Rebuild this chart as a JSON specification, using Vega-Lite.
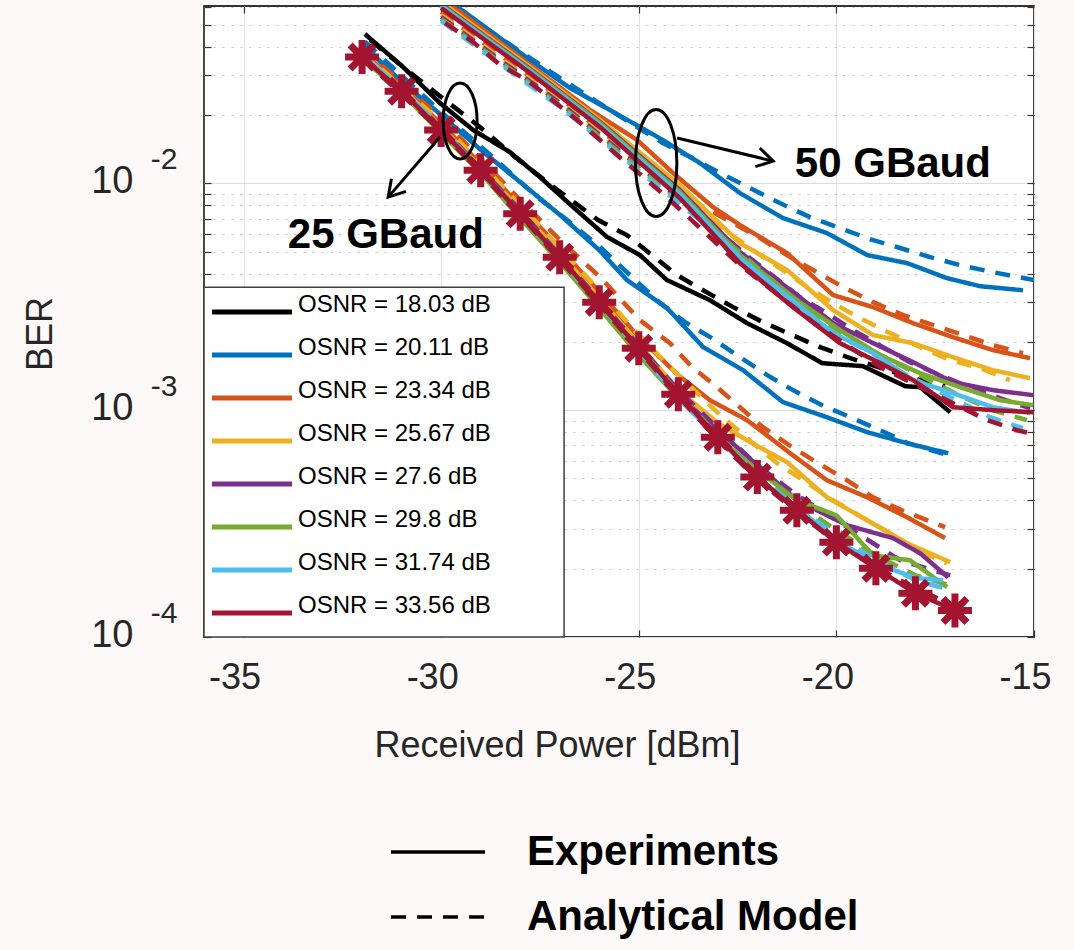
{
  "$schema": "https://vega.github.io/schema/vega-lite/v6.json",
  "width": 830,
  "height": 631,
  "autosize": "none",
  "padding": {"left": 204, "top": 6, "right": 40, "bottom": 313},
  "background": "#fdf9f8",
  "config": {
    "font": "Liberation Sans",
    "view": {"fill": "white", "stroke": "#333333", "strokeWidth": 1.8}
  },
  "datasets": {
    "box": [{"x": -36, "x2": -26.89, "y": 0.0001, "y2": 0.003487}],
    "ell25": [{"x": -29.52, "y": 0.01883}],
    "ell50": [{"x": -24.56, "y": 0.01229}],
    "arrows": [
      {"x": -30.03, "y": 0.016, "x2": -31.34, "y2": 0.0087},
      {"x": -24.03, "y": 0.01584, "x2": -21.6, "y2": 0.01254}
    ],
    "head25": [{"x": -31.34, "y": 0.0087}],
    "head50": [{"x": -21.6, "y": 0.01254}],
    "labels": [
      {"x": -31.4, "y": 0.00518, "label": "25 GBaud"},
      {"x": -18.57, "y": 0.01066, "label": "50 GBaud"}
    ],
    "ber": [
      {"b":25,"o":"18.03","t":"E","x":-31.93,"y":0.04556},
      {"b":25,"o":"18.03","t":"E","x":-30.99,"y":0.03293},
      {"b":25,"o":"18.03","t":"E","x":-30.03,"y":0.02261},
      {"b":25,"o":"18.03","t":"E","x":-29.19,"y":0.01719},
      {"b":25,"o":"18.03","t":"E","x":-28.26,"y":0.01374},
      {"b":25,"o":"18.03","t":"E","x":-27.5,"y":0.01066},
      {"b":25,"o":"18.03","t":"E","x":-26.66,"y":0.00786},
      {"b":25,"o":"18.03","t":"E","x":-25.8,"y":0.0058},
      {"b":25,"o":"18.03","t":"E","x":-24.97,"y":0.00483},
      {"b":25,"o":"18.03","t":"E","x":-24.29,"y":0.00375},
      {"b":25,"o":"18.03","t":"E","x":-23.2,"y":0.003056},
      {"b":25,"o":"18.03","t":"E","x":-22.26,"y":0.00242},
      {"b":25,"o":"18.03","t":"E","x":-21.25,"y":0.001975},
      {"b":25,"o":"18.03","t":"E","x":-20.36,"y":0.001612},
      {"b":25,"o":"18.03","t":"E","x":-19.33,"y":0.001564},
      {"b":25,"o":"18.03","t":"E","x":-18.26,"y":0.001276},
      {"b":25,"o":"18.03","t":"E","x":-17.88,"y":0.001263},
      {"b":25,"o":"18.03","t":"E","x":-17.12,"y":0.00098},
      {"b":25,"o":"18.03","t":"M","x":-31.8,"y":0.04287},
      {"b":25,"o":"18.03","t":"M","x":-31.12,"y":0.03428},
      {"b":25,"o":"18.03","t":"M","x":-30,"y":0.02403},
      {"b":25,"o":"18.03","t":"M","x":-29.02,"y":0.01772},
      {"b":25,"o":"18.03","t":"M","x":-28.13,"y":0.01306},
      {"b":25,"o":"18.03","t":"M","x":-27.32,"y":0.01013},
      {"b":25,"o":"18.03","t":"M","x":-26.03,"y":0.00689},
      {"b":25,"o":"18.03","t":"M","x":-25.3,"y":0.00592},
      {"b":25,"o":"18.03","t":"M","x":-24.03,"y":0.00394},
      {"b":25,"o":"18.03","t":"M","x":-23.37,"y":0.00338},
      {"b":25,"o":"18.03","t":"M","x":-22.61,"y":0.002847},
      {"b":25,"o":"18.03","t":"M","x":-21.86,"y":0.002445},
      {"b":25,"o":"18.03","t":"M","x":-21.17,"y":0.002164},
      {"b":25,"o":"18.03","t":"M","x":-20.41,"y":0.001897},
      {"b":25,"o":"18.03","t":"M","x":-19.65,"y":0.001696},
      {"b":25,"o":"18.03","t":"M","x":-18.06,"y":0.001384},
      {"b":25,"o":"18.03","t":"M","x":-17.25,"y":0.001276},
      {"b":25,"o":"20.11","t":"E","x":-31.98,"y":0.04074},
      {"b":25,"o":"20.11","t":"E","x":-30.99,"y":0.02799},
      {"b":25,"o":"20.11","t":"E","x":-30,"y":0.02001},
      {"b":25,"o":"20.11","t":"E","x":-28.99,"y":0.01402},
      {"b":25,"o":"20.11","t":"E","x":-28,"y":0.01013},
      {"b":25,"o":"20.11","t":"E","x":-26.99,"y":0.00725},
      {"b":25,"o":"20.11","t":"E","x":-26,"y":0.00508},
      {"b":25,"o":"20.11","t":"E","x":-25.3,"y":0.00375},
      {"b":25,"o":"20.11","t":"E","x":-24.28,"y":0.002818},
      {"b":25,"o":"20.11","t":"E","x":-23.37,"y":0.001897},
      {"b":25,"o":"20.11","t":"E","x":-22.36,"y":0.001501},
      {"b":25,"o":"20.11","t":"E","x":-21.35,"y":0.001085},
      {"b":25,"o":"20.11","t":"E","x":-20.24,"y":0.000931},
      {"b":25,"o":"20.11","t":"E","x":-19.22,"y":0.0008},
      {"b":25,"o":"20.11","t":"E","x":-18.21,"y":0.000715},
      {"b":25,"o":"20.11","t":"E","x":-17.17,"y":0.000646},
      {"b":25,"o":"20.11","t":"M","x":-31.93,"y":0.042},
      {"b":25,"o":"20.11","t":"M","x":-30,"y":0.02064},
      {"b":25,"o":"20.11","t":"M","x":-28.69,"y":0.01306},
      {"b":25,"o":"20.11","t":"M","x":-27.57,"y":0.0087},
      {"b":25,"o":"20.11","t":"M","x":-26.81,"y":0.00689},
      {"b":25,"o":"20.11","t":"M","x":-25.98,"y":0.00524},
      {"b":25,"o":"20.11","t":"M","x":-25.14,"y":0.00382},
      {"b":25,"o":"20.11","t":"M","x":-24.46,"y":0.002965},
      {"b":25,"o":"20.11","t":"M","x":-23.83,"y":0.002445},
      {"b":25,"o":"20.11","t":"M","x":-23.15,"y":0.002078},
      {"b":25,"o":"20.11","t":"M","x":-22.44,"y":0.001713},
      {"b":25,"o":"20.11","t":"M","x":-21.75,"y":0.001427},
      {"b":25,"o":"20.11","t":"M","x":-21.1,"y":0.001226},
      {"b":25,"o":"20.11","t":"M","x":-20.36,"y":0.001052},
      {"b":25,"o":"20.11","t":"M","x":-19.65,"y":0.000931},
      {"b":25,"o":"20.11","t":"M","x":-18.89,"y":0.000816},
      {"b":25,"o":"20.11","t":"M","x":-18.19,"y":0.000715},
      {"b":25,"o":"20.11","t":"M","x":-17.17,"y":0.000633},
      {"b":50,"o":"20.11","t":"E","x":-30,"y":0.06772},
      {"b":50,"o":"20.11","t":"E","x":-27.75,"y":0.03499},
      {"b":50,"o":"20.11","t":"E","x":-26.74,"y":0.02633},
      {"b":50,"o":"20.11","t":"E","x":-25.73,"y":0.02106},
      {"b":50,"o":"20.11","t":"E","x":-24.39,"y":0.01553},
      {"b":50,"o":"20.11","t":"E","x":-23.45,"y":0.01229},
      {"b":50,"o":"20.11","t":"E","x":-22.44,"y":0.00906},
      {"b":50,"o":"20.11","t":"E","x":-21.35,"y":0.00703},
      {"b":50,"o":"20.11","t":"E","x":-20.24,"y":0.00604},
      {"b":50,"o":"20.11","t":"E","x":-19.22,"y":0.00483},
      {"b":50,"o":"20.11","t":"E","x":-18.21,"y":0.00445},
      {"b":50,"o":"20.11","t":"E","x":-17.2,"y":0.00382},
      {"b":50,"o":"20.11","t":"E","x":-16.36,"y":0.00352},
      {"b":50,"o":"20.11","t":"E","x":-15.28,"y":0.00338},
      {"b":50,"o":"20.11","t":"M","x":-30,"y":0.06635},
      {"b":50,"o":"20.11","t":"M","x":-28.51,"y":0.04375},
      {"b":50,"o":"20.11","t":"M","x":-26.99,"y":0.02914},
      {"b":50,"o":"20.11","t":"M","x":-25.73,"y":0.02106},
      {"b":50,"o":"20.11","t":"M","x":-24.39,"y":0.01506},
      {"b":50,"o":"20.11","t":"M","x":-23.7,"y":0.01306},
      {"b":50,"o":"20.11","t":"M","x":-22.94,"y":0.0111},
      {"b":50,"o":"20.11","t":"M","x":-22.18,"y":0.00953},
      {"b":50,"o":"20.11","t":"M","x":-21.43,"y":0.00819},
      {"b":50,"o":"20.11","t":"M","x":-20.67,"y":0.0071},
      {"b":50,"o":"20.11","t":"M","x":-19.91,"y":0.00635},
      {"b":50,"o":"20.11","t":"M","x":-19.15,"y":0.00568},
      {"b":50,"o":"20.11","t":"M","x":-18.39,"y":0.00519},
      {"b":50,"o":"20.11","t":"M","x":-17.63,"y":0.00473},
      {"b":50,"o":"20.11","t":"M","x":-16.87,"y":0.00436},
      {"b":50,"o":"20.11","t":"M","x":-16.04,"y":0.00406},
      {"b":50,"o":"20.11","t":"M","x":-15,"y":0.00375},
      {"b":25,"o":"23.34","t":"E","x":-32,"y":0.03796},
      {"b":25,"o":"23.34","t":"E","x":-31,"y":0.02687},
      {"b":25,"o":"23.34","t":"E","x":-30,"y":0.01827},
      {"b":25,"o":"23.34","t":"E","x":-29,"y":0.01217},
      {"b":25,"o":"23.34","t":"E","x":-28,"y":0.00794},
      {"b":25,"o":"23.34","t":"E","x":-27,"y":0.00519},
      {"b":25,"o":"23.34","t":"E","x":-26,"y":0.00332},
      {"b":25,"o":"23.34","t":"E","x":-25,"y":0.002099},
      {"b":25,"o":"23.34","t":"E","x":-24,"y":0.001427},
      {"b":25,"o":"23.34","t":"E","x":-23.2,"y":0.001107},
      {"b":25,"o":"23.34","t":"E","x":-22.26,"y":0.000904},
      {"b":25,"o":"23.34","t":"E","x":-21.17,"y":0.000646},
      {"b":25,"o":"23.34","t":"E","x":-20.24,"y":0.000491},
      {"b":25,"o":"23.34","t":"E","x":-19.22,"y":0.000413},
      {"b":25,"o":"23.34","t":"E","x":-18.21,"y":0.000337},
      {"b":25,"o":"23.34","t":"E","x":-17.25,"y":0.000273},
      {"b":25,"o":"23.34","t":"M","x":-32,"y":0.03953},
      {"b":25,"o":"23.34","t":"M","x":-30,"y":0.01941},
      {"b":25,"o":"23.34","t":"M","x":-28,"y":0.00844},
      {"b":25,"o":"23.34","t":"M","x":-26.99,"y":0.00562},
      {"b":25,"o":"23.34","t":"M","x":-25.98,"y":0.00386},
      {"b":25,"o":"23.34","t":"M","x":-24.97,"y":0.002495},
      {"b":25,"o":"23.34","t":"M","x":-24.21,"y":0.001975},
      {"b":25,"o":"23.34","t":"M","x":-23.65,"y":0.001548},
      {"b":25,"o":"23.34","t":"M","x":-23.02,"y":0.001263},
      {"b":25,"o":"23.34","t":"M","x":-22.44,"y":0.001031},
      {"b":25,"o":"23.34","t":"M","x":-21.86,"y":0.000842},
      {"b":25,"o":"23.34","t":"M","x":-21.12,"y":0.000687},
      {"b":25,"o":"23.34","t":"M","x":-20.46,"y":0.000584},
      {"b":25,"o":"23.34","t":"M","x":-19.73,"y":0.000491},
      {"b":25,"o":"23.34","t":"M","x":-19.07,"y":0.000413},
      {"b":25,"o":"23.34","t":"M","x":-18.34,"y":0.000362},
      {"b":25,"o":"23.34","t":"M","x":-17.25,"y":0.000305},
      {"b":50,"o":"23.34","t":"E","x":-30,"y":0.06436},
      {"b":50,"o":"23.34","t":"E","x":-29.52,"y":0.05697},
      {"b":50,"o":"23.34","t":"E","x":-27.75,"y":0.03326},
      {"b":50,"o":"23.34","t":"E","x":-26.23,"y":0.02106},
      {"b":50,"o":"23.34","t":"E","x":-25.04,"y":0.01553},
      {"b":50,"o":"23.34","t":"E","x":-24.13,"y":0.0111},
      {"b":50,"o":"23.34","t":"E","x":-23.12,"y":0.00786},
      {"b":50,"o":"23.34","t":"E","x":-22.44,"y":0.00655},
      {"b":50,"o":"23.34","t":"E","x":-21.25,"y":0.00493},
      {"b":50,"o":"23.34","t":"E","x":-20.08,"y":0.003216},
      {"b":50,"o":"23.34","t":"E","x":-19.07,"y":0.002847},
      {"b":50,"o":"23.34","t":"E","x":-18.06,"y":0.00242},
      {"b":50,"o":"23.34","t":"E","x":-17.05,"y":0.002099},
      {"b":50,"o":"23.34","t":"E","x":-16.04,"y":0.00184},
      {"b":50,"o":"23.34","t":"E","x":-15.1,"y":0.001696},
      {"b":50,"o":"23.34","t":"M","x":-30,"y":0.05697},
      {"b":50,"o":"23.34","t":"M","x":-28.51,"y":0.03681},
      {"b":50,"o":"23.34","t":"M","x":-26.99,"y":0.02378},
      {"b":50,"o":"23.34","t":"M","x":-25.98,"y":0.01719},
      {"b":50,"o":"23.34","t":"M","x":-24.71,"y":0.01168},
      {"b":50,"o":"23.34","t":"M","x":-23.45,"y":0.00802},
      {"b":50,"o":"23.34","t":"M","x":-21.93,"y":0.00574},
      {"b":50,"o":"23.34","t":"M","x":-21.17,"y":0.00473},
      {"b":50,"o":"23.34","t":"M","x":-20.49,"y":0.00406},
      {"b":50,"o":"23.34","t":"M","x":-19.83,"y":0.00349},
      {"b":50,"o":"23.34","t":"M","x":-19.07,"y":0.002996},
      {"b":50,"o":"23.34","t":"M","x":-18.31,"y":0.002625},
      {"b":50,"o":"23.34","t":"M","x":-17.55,"y":0.002371},
      {"b":50,"o":"23.34","t":"M","x":-16.79,"y":0.002142},
      {"b":50,"o":"23.34","t":"M","x":-16.04,"y":0.001935},
      {"b":50,"o":"23.34","t":"M","x":-15.28,"y":0.001785},
      {"b":25,"o":"25.67","t":"E","x":-32,"y":0.0372},
      {"b":25,"o":"25.67","t":"E","x":-31,"y":0.02633},
      {"b":25,"o":"25.67","t":"E","x":-30,"y":0.01772},
      {"b":25,"o":"25.67","t":"E","x":-29,"y":0.0118},
      {"b":25,"o":"25.67","t":"E","x":-28,"y":0.00762},
      {"b":25,"o":"25.67","t":"E","x":-27,"y":0.00493},
      {"b":25,"o":"25.67","t":"E","x":-26,"y":0.003119},
      {"b":25,"o":"25.67","t":"E","x":-25,"y":0.001955},
      {"b":25,"o":"25.67","t":"E","x":-24,"y":0.001226},
      {"b":25,"o":"25.67","t":"E","x":-22.99,"y":0.000876},
      {"b":25,"o":"25.67","t":"E","x":-22.18,"y":0.000723},
      {"b":25,"o":"25.67","t":"E","x":-21.25,"y":0.00059},
      {"b":25,"o":"25.67","t":"E","x":-20.24,"y":0.000413},
      {"b":25,"o":"25.67","t":"E","x":-19.22,"y":0.000327},
      {"b":25,"o":"25.67","t":"E","x":-18.21,"y":0.000259},
      {"b":25,"o":"25.67","t":"E","x":-17.12,"y":0.000214},
      {"b":25,"o":"25.67","t":"M","x":-32,"y":0.03796},
      {"b":25,"o":"25.67","t":"M","x":-30,"y":0.01865},
      {"b":25,"o":"25.67","t":"M","x":-28,"y":0.00802},
      {"b":25,"o":"25.67","t":"M","x":-26,"y":0.00338},
      {"b":25,"o":"25.67","t":"M","x":-25,"y":0.002142},
      {"b":25,"o":"25.67","t":"M","x":-24,"y":0.001427},
      {"b":25,"o":"25.67","t":"M","x":-22.99,"y":0.00097},
      {"b":25,"o":"25.67","t":"M","x":-22.11,"y":0.000715},
      {"b":25,"o":"25.67","t":"M","x":-21.5,"y":0.000584},
      {"b":25,"o":"25.67","t":"M","x":-20.84,"y":0.000491},
      {"b":25,"o":"25.67","t":"M","x":-20.08,"y":0.000401},
      {"b":25,"o":"25.67","t":"M","x":-19.22,"y":0.000327},
      {"b":25,"o":"25.67","t":"M","x":-18.64,"y":0.000287},
      {"b":25,"o":"25.67","t":"M","x":-17.96,"y":0.000241},
      {"b":25,"o":"25.67","t":"M","x":-17.2,"y":0.000211},
      {"b":50,"o":"25.67","t":"E","x":-30,"y":0.06305},
      {"b":50,"o":"25.67","t":"E","x":-27.75,"y":0.03259},
      {"b":50,"o":"25.67","t":"E","x":-25.98,"y":0.01902},
      {"b":50,"o":"25.67","t":"E","x":-23.96,"y":0.00983},
      {"b":50,"o":"25.67","t":"E","x":-22.44,"y":0.00545},
      {"b":50,"o":"25.67","t":"E","x":-21.25,"y":0.00415},
      {"b":50,"o":"25.67","t":"E","x":-20.08,"y":0.002762},
      {"b":50,"o":"25.67","t":"E","x":-19.07,"y":0.002142},
      {"b":50,"o":"25.67","t":"E","x":-18.06,"y":0.001975},
      {"b":50,"o":"25.67","t":"E","x":-17.05,"y":0.001713},
      {"b":50,"o":"25.67","t":"E","x":-16.04,"y":0.001501},
      {"b":50,"o":"25.67","t":"E","x":-15.1,"y":0.001384},
      {"b":50,"o":"25.67","t":"M","x":-30,"y":0.05526},
      {"b":50,"o":"25.67","t":"M","x":-28.51,"y":0.03571},
      {"b":50,"o":"25.67","t":"M","x":-26.99,"y":0.02307},
      {"b":50,"o":"25.67","t":"M","x":-25.98,"y":0.01667},
      {"b":50,"o":"25.67","t":"M","x":-24.71,"y":0.01122},
      {"b":50,"o":"25.67","t":"M","x":-23.45,"y":0.00747},
      {"b":50,"o":"25.67","t":"M","x":-22.11,"y":0.00508},
      {"b":50,"o":"25.67","t":"M","x":-21.43,"y":0.00423},
      {"b":50,"o":"25.67","t":"M","x":-20.74,"y":0.00349},
      {"b":50,"o":"25.67","t":"M","x":-20.08,"y":0.002965},
      {"b":50,"o":"25.67","t":"M","x":-19.4,"y":0.002546},
      {"b":50,"o":"25.67","t":"M","x":-18.64,"y":0.002186},
      {"b":50,"o":"25.67","t":"M","x":-17.88,"y":0.001897},
      {"b":50,"o":"25.67","t":"M","x":-17.12,"y":0.001662},
      {"b":50,"o":"25.67","t":"M","x":-16.36,"y":0.001532},
      {"b":50,"o":"25.67","t":"M","x":-15.61,"y":0.001357},
      {"b":25,"o":"27.6","t":"E","x":-32,"y":0.03645},
      {"b":25,"o":"27.6","t":"E","x":-31,"y":0.0258},
      {"b":25,"o":"27.6","t":"E","x":-30,"y":0.01737},
      {"b":25,"o":"27.6","t":"E","x":-29,"y":0.01156},
      {"b":25,"o":"27.6","t":"E","x":-28,"y":0.0074},
      {"b":25,"o":"27.6","t":"E","x":-27,"y":0.00473},
      {"b":25,"o":"27.6","t":"E","x":-26,"y":0.002965},
      {"b":25,"o":"27.6","t":"E","x":-25,"y":0.001859},
      {"b":25,"o":"27.6","t":"E","x":-24,"y":0.001165},
      {"b":25,"o":"27.6","t":"E","x":-23,"y":0.000816},
      {"b":25,"o":"27.6","t":"E","x":-22,"y":0.000572},
      {"b":25,"o":"27.6","t":"E","x":-21,"y":0.000401},
      {"b":25,"o":"27.6","t":"E","x":-19.73,"y":0.000311},
      {"b":25,"o":"27.6","t":"E","x":-18.57,"y":0.000273},
      {"b":25,"o":"27.6","t":"E","x":-17.88,"y":0.000234},
      {"b":25,"o":"27.6","t":"E","x":-17.17,"y":0.000183},
      {"b":25,"o":"27.6","t":"M","x":-32,"y":0.03681},
      {"b":25,"o":"27.6","t":"M","x":-30,"y":0.01772},
      {"b":25,"o":"27.6","t":"M","x":-28,"y":0.00762},
      {"b":25,"o":"27.6","t":"M","x":-26,"y":0.003056},
      {"b":25,"o":"27.6","t":"M","x":-25,"y":0.001935},
      {"b":25,"o":"27.6","t":"M","x":-24,"y":0.001226},
      {"b":25,"o":"27.6","t":"M","x":-23,"y":0.000833},
      {"b":25,"o":"27.6","t":"M","x":-22,"y":0.000572},
      {"b":25,"o":"27.6","t":"M","x":-21,"y":0.000422},
      {"b":25,"o":"27.6","t":"M","x":-20,"y":0.000327},
      {"b":25,"o":"27.6","t":"M","x":-19.07,"y":0.000259},
      {"b":25,"o":"27.6","t":"M","x":-18.39,"y":0.000218},
      {"b":25,"o":"27.6","t":"M","x":-17.55,"y":0.000197},
      {"b":25,"o":"27.6","t":"M","x":-17.12,"y":0.000187},
      {"b":50,"o":"27.6","t":"E","x":-30,"y":0.0618},
      {"b":50,"o":"27.6","t":"E","x":-27.75,"y":0.03193},
      {"b":50,"o":"27.6","t":"E","x":-25.98,"y":0.01865},
      {"b":50,"o":"27.6","t":"E","x":-23.96,"y":0.00934},
      {"b":50,"o":"27.6","t":"E","x":-22.44,"y":0.00498},
      {"b":50,"o":"27.6","t":"E","x":-21.1,"y":0.00332},
      {"b":50,"o":"27.6","t":"E","x":-20.08,"y":0.00242},
      {"b":50,"o":"27.6","t":"E","x":-19.07,"y":0.001975},
      {"b":50,"o":"27.6","t":"E","x":-18.06,"y":0.001629},
      {"b":50,"o":"27.6","t":"E","x":-17.05,"y":0.001329},
      {"b":50,"o":"27.6","t":"E","x":-16.04,"y":0.001226},
      {"b":50,"o":"27.6","t":"E","x":-15.02,"y":0.001165},
      {"b":50,"o":"27.6","t":"M","x":-30,"y":0.05415},
      {"b":50,"o":"27.6","t":"M","x":-28.51,"y":0.03499},
      {"b":50,"o":"27.6","t":"M","x":-26.99,"y":0.02261},
      {"b":50,"o":"27.6","t":"M","x":-25.98,"y":0.01633},
      {"b":50,"o":"27.6","t":"M","x":-24.71,"y":0.01088},
      {"b":50,"o":"27.6","t":"M","x":-23.45,"y":0.00718},
      {"b":50,"o":"27.6","t":"M","x":-22.18,"y":0.00468},
      {"b":50,"o":"27.6","t":"M","x":-20.92,"y":0.00315},
      {"b":50,"o":"27.6","t":"M","x":-20.24,"y":0.002679},
      {"b":50,"o":"27.6","t":"M","x":-19.58,"y":0.002254},
      {"b":50,"o":"27.6","t":"M","x":-18.82,"y":0.001897},
      {"b":50,"o":"27.6","t":"M","x":-18.14,"y":0.001629},
      {"b":50,"o":"27.6","t":"M","x":-17.38,"y":0.001427},
      {"b":50,"o":"27.6","t":"M","x":-16.62,"y":0.001263},
      {"b":50,"o":"27.6","t":"M","x":-15.86,"y":0.00113},
      {"b":50,"o":"27.6","t":"M","x":-15.1,"y":0.001021},
      {"b":25,"o":"29.8","t":"E","x":-32,"y":0.03571},
      {"b":25,"o":"29.8","t":"E","x":-31,"y":0.02503},
      {"b":25,"o":"29.8","t":"E","x":-30,"y":0.01667},
      {"b":25,"o":"29.8","t":"E","x":-29,"y":0.0111},
      {"b":25,"o":"29.8","t":"E","x":-28,"y":0.00703},
      {"b":25,"o":"29.8","t":"E","x":-27,"y":0.0045},
      {"b":25,"o":"29.8","t":"E","x":-26,"y":0.002818},
      {"b":25,"o":"29.8","t":"E","x":-25,"y":0.001748},
      {"b":25,"o":"29.8","t":"E","x":-24,"y":0.00113},
      {"b":25,"o":"29.8","t":"E","x":-23,"y":0.00076},
      {"b":25,"o":"29.8","t":"E","x":-22,"y":0.000544},
      {"b":25,"o":"29.8","t":"E","x":-21,"y":0.000401},
      {"b":25,"o":"29.8","t":"E","x":-20,"y":0.000344},
      {"b":25,"o":"29.8","t":"E","x":-19.07,"y":0.000229},
      {"b":25,"o":"29.8","t":"E","x":-18.14,"y":0.000218},
      {"b":25,"o":"29.8","t":"E","x":-17.2,"y":0.000166},
      {"b":25,"o":"29.8","t":"M","x":-32,"y":0.0361},
      {"b":25,"o":"29.8","t":"M","x":-30,"y":0.01701},
      {"b":25,"o":"29.8","t":"M","x":-28,"y":0.00718},
      {"b":25,"o":"29.8","t":"M","x":-26,"y":0.002905},
      {"b":25,"o":"29.8","t":"M","x":-25,"y":0.001897},
      {"b":25,"o":"29.8","t":"M","x":-24,"y":0.001189},
      {"b":25,"o":"29.8","t":"M","x":-23,"y":0.000776},
      {"b":25,"o":"29.8","t":"M","x":-22,"y":0.000533},
      {"b":25,"o":"29.8","t":"M","x":-21,"y":0.000389},
      {"b":25,"o":"29.8","t":"M","x":-20,"y":0.000296},
      {"b":25,"o":"29.8","t":"M","x":-19,"y":0.000229},
      {"b":25,"o":"29.8","t":"M","x":-18,"y":0.000187},
      {"b":25,"o":"29.8","t":"M","x":-17.12,"y":0.000169},
      {"b":50,"o":"29.8","t":"E","x":-30,"y":0.06117},
      {"b":50,"o":"29.8","t":"E","x":-27.75,"y":0.03161},
      {"b":50,"o":"29.8","t":"E","x":-25.98,"y":0.01845},
      {"b":50,"o":"29.8","t":"E","x":-23.96,"y":0.00916},
      {"b":50,"o":"29.8","t":"E","x":-22.44,"y":0.00483},
      {"b":50,"o":"29.8","t":"E","x":-21,"y":0.003056},
      {"b":50,"o":"29.8","t":"E","x":-19.91,"y":0.002254},
      {"b":50,"o":"29.8","t":"E","x":-18.89,"y":0.001748},
      {"b":50,"o":"29.8","t":"E","x":-17.88,"y":0.001456},
      {"b":50,"o":"29.8","t":"E","x":-16.87,"y":0.001263},
      {"b":50,"o":"29.8","t":"E","x":-15.86,"y":0.001107},
      {"b":50,"o":"29.8","t":"E","x":-15.02,"y":0.001052},
      {"b":50,"o":"29.8","t":"M","x":-30,"y":0.05306},
      {"b":50,"o":"29.8","t":"M","x":-28.51,"y":0.03428},
      {"b":50,"o":"29.8","t":"M","x":-26.99,"y":0.02215},
      {"b":50,"o":"29.8","t":"M","x":-25.98,"y":0.01601},
      {"b":50,"o":"29.8","t":"M","x":-24.71,"y":0.01066},
      {"b":50,"o":"29.8","t":"M","x":-23.45,"y":0.00703},
      {"b":50,"o":"29.8","t":"M","x":-21.93,"y":0.00415},
      {"b":50,"o":"29.8","t":"M","x":-20.41,"y":0.002495},
      {"b":50,"o":"29.8","t":"M","x":-19.73,"y":0.002099},
      {"b":50,"o":"29.8","t":"M","x":-18.97,"y":0.001785},
      {"b":50,"o":"29.8","t":"M","x":-17.55,"y":0.001329},
      {"b":50,"o":"29.8","t":"M","x":-16.79,"y":0.001141},
      {"b":50,"o":"29.8","t":"M","x":-16.04,"y":0.001},
      {"b":50,"o":"29.8","t":"M","x":-15.18,"y":0.000904},
      {"b":25,"o":"31.74","t":"E","x":-32,"y":0.03681},
      {"b":25,"o":"31.74","t":"E","x":-31,"y":0.02606},
      {"b":25,"o":"31.74","t":"E","x":-30,"y":0.01754},
      {"b":25,"o":"31.74","t":"E","x":-29,"y":0.01143},
      {"b":25,"o":"31.74","t":"E","x":-28,"y":0.00734},
      {"b":25,"o":"31.74","t":"E","x":-27,"y":0.00468},
      {"b":25,"o":"31.74","t":"E","x":-26,"y":0.002965},
      {"b":25,"o":"31.74","t":"E","x":-25,"y":0.00184},
      {"b":25,"o":"31.74","t":"E","x":-24,"y":0.00113},
      {"b":25,"o":"31.74","t":"E","x":-23,"y":0.00076},
      {"b":25,"o":"31.74","t":"E","x":-22,"y":0.000501},
      {"b":25,"o":"31.74","t":"E","x":-21,"y":0.000373},
      {"b":25,"o":"31.74","t":"E","x":-20,"y":0.000267},
      {"b":25,"o":"31.74","t":"E","x":-19,"y":0.000211},
      {"b":25,"o":"31.74","t":"E","x":-18,"y":0.000182},
      {"b":25,"o":"31.74","t":"E","x":-17.3,"y":0.000178},
      {"b":25,"o":"31.74","t":"M","x":-32,"y":0.03645},
      {"b":25,"o":"31.74","t":"M","x":-30,"y":0.01737},
      {"b":25,"o":"31.74","t":"M","x":-28,"y":0.0074},
      {"b":25,"o":"31.74","t":"M","x":-26,"y":0.002935},
      {"b":25,"o":"31.74","t":"M","x":-25,"y":0.001877},
      {"b":25,"o":"31.74","t":"M","x":-24,"y":0.001177},
      {"b":25,"o":"31.74","t":"M","x":-23,"y":0.00076},
      {"b":25,"o":"31.74","t":"M","x":-22,"y":0.000517},
      {"b":25,"o":"31.74","t":"M","x":-21,"y":0.000373},
      {"b":25,"o":"31.74","t":"M","x":-20,"y":0.000281},
      {"b":25,"o":"31.74","t":"M","x":-19,"y":0.000218},
      {"b":25,"o":"31.74","t":"M","x":-18,"y":0.000178},
      {"b":25,"o":"31.74","t":"M","x":-17.12,"y":0.000161},
      {"b":50,"o":"31.74","t":"E","x":-30,"y":0.06055},
      {"b":50,"o":"31.74","t":"E","x":-27.75,"y":0.03129},
      {"b":50,"o":"31.74","t":"E","x":-25.98,"y":0.01808},
      {"b":50,"o":"31.74","t":"E","x":-23.96,"y":0.00897},
      {"b":50,"o":"31.74","t":"E","x":-22.44,"y":0.00468},
      {"b":50,"o":"31.74","t":"E","x":-20.08,"y":0.002186},
      {"b":50,"o":"31.74","t":"E","x":-19.07,"y":0.001785},
      {"b":50,"o":"31.74","t":"E","x":-18.06,"y":0.001357},
      {"b":50,"o":"31.74","t":"E","x":-17.05,"y":0.001189},
      {"b":50,"o":"31.74","t":"E","x":-16.04,"y":0.001031},
      {"b":50,"o":"31.74","t":"E","x":-15.1,"y":0.00097},
      {"b":50,"o":"31.74","t":"M","x":-30,"y":0.052},
      {"b":50,"o":"31.74","t":"M","x":-28.51,"y":0.0336},
      {"b":50,"o":"31.74","t":"M","x":-26.99,"y":0.02171},
      {"b":50,"o":"31.74","t":"M","x":-25.98,"y":0.01569},
      {"b":50,"o":"31.74","t":"M","x":-24.71,"y":0.01034},
      {"b":50,"o":"31.74","t":"M","x":-23.45,"y":0.00689},
      {"b":50,"o":"31.74","t":"M","x":-21.43,"y":0.00328},
      {"b":50,"o":"31.74","t":"M","x":-19.91,"y":0.002099},
      {"b":50,"o":"31.74","t":"M","x":-19.22,"y":0.00184},
      {"b":50,"o":"31.74","t":"M","x":-18.31,"y":0.001456},
      {"b":50,"o":"31.74","t":"M","x":-16.87,"y":0.001085},
      {"b":50,"o":"31.74","t":"M","x":-16.11,"y":0.000931},
      {"b":50,"o":"31.74","t":"M","x":-15.28,"y":0.000833},
      {"b":50,"o":"33.56","t":"E","x":-30,"y":0.05934},
      {"b":50,"o":"33.56","t":"E","x":-27.75,"y":0.03066},
      {"b":50,"o":"33.56","t":"E","x":-25.98,"y":0.01772},
      {"b":50,"o":"33.56","t":"E","x":-23.96,"y":0.00861},
      {"b":50,"o":"33.56","t":"E","x":-22.44,"y":0.00445},
      {"b":50,"o":"33.56","t":"E","x":-21.1,"y":0.002847},
      {"b":50,"o":"33.56","t":"E","x":-19.91,"y":0.001975},
      {"b":50,"o":"33.56","t":"E","x":-18.89,"y":0.001612},
      {"b":50,"o":"33.56","t":"E","x":-18.06,"y":0.001357},
      {"b":50,"o":"33.56","t":"E","x":-17.05,"y":0.001031},
      {"b":50,"o":"33.56","t":"E","x":-16.04,"y":0.001},
      {"b":50,"o":"33.56","t":"E","x":-15.02,"y":0.00098},
      {"b":50,"o":"33.56","t":"M","x":-29.9,"y":0.05095},
      {"b":50,"o":"33.56","t":"M","x":-29.19,"y":0.042},
      {"b":50,"o":"33.56","t":"M","x":-28.51,"y":0.0333},
      {"b":50,"o":"33.56","t":"M","x":-27.83,"y":0.02855},
      {"b":50,"o":"33.56","t":"M","x":-27.19,"y":0.02331},
      {"b":50,"o":"33.56","t":"M","x":-26.56,"y":0.01902},
      {"b":50,"o":"33.56","t":"M","x":-25.98,"y":0.01553},
      {"b":50,"o":"33.56","t":"M","x":-25.4,"y":0.01267},
      {"b":50,"o":"33.56","t":"M","x":-24.79,"y":0.01034},
      {"b":50,"o":"33.56","t":"M","x":-24.21,"y":0.00844},
      {"b":50,"o":"33.56","t":"M","x":-22.44,"y":0.00436},
      {"b":50,"o":"33.56","t":"M","x":-20.49,"y":0.002371},
      {"b":50,"o":"33.56","t":"M","x":-18.89,"y":0.001548},
      {"b":50,"o":"33.56","t":"M","x":-17.05,"y":0.001074},
      {"b":50,"o":"33.56","t":"M","x":-16.19,"y":0.000904},
      {"b":50,"o":"33.56","t":"M","x":-15.43,"y":0.000816},
      {"b":50,"o":"33.56","t":"M","x":-15.1,"y":0.000792},
      {"b":25,"o":"33.56","t":"M","x":-32,"y":0.03571},
      {"b":25,"o":"33.56","t":"M","x":-30,"y":0.01701},
      {"b":25,"o":"33.56","t":"M","x":-28,"y":0.00725},
      {"b":25,"o":"33.56","t":"M","x":-26,"y":0.002935},
      {"b":25,"o":"33.56","t":"M","x":-25,"y":0.00184},
      {"b":25,"o":"33.56","t":"M","x":-24,"y":0.001153},
      {"b":25,"o":"33.56","t":"M","x":-23,"y":0.000738},
      {"b":25,"o":"33.56","t":"M","x":-22,"y":0.000496},
      {"b":25,"o":"33.56","t":"M","x":-21,"y":0.000355},
      {"b":25,"o":"33.56","t":"M","x":-20,"y":0.000262},
      {"b":25,"o":"33.56","t":"M","x":-19,"y":0.000203},
      {"b":25,"o":"33.56","t":"M","x":-18,"y":0.000164},
      {"b":25,"o":"33.56","t":"M","x":-17,"y":0.000137},
      {"b":25,"o":"33.56","t":"E","x":-32,"y":0.0361},
      {"b":25,"o":"33.56","t":"E","x":-31,"y":0.0255},
      {"b":25,"o":"33.56","t":"E","x":-30,"y":0.01718},
      {"b":25,"o":"33.56","t":"E","x":-29,"y":0.01143},
      {"b":25,"o":"33.56","t":"E","x":-28,"y":0.00734},
      {"b":25,"o":"33.56","t":"E","x":-27,"y":0.00473},
      {"b":25,"o":"33.56","t":"E","x":-26,"y":0.00299},
      {"b":25,"o":"33.56","t":"E","x":-25,"y":0.001876},
      {"b":25,"o":"33.56","t":"E","x":-24,"y":0.001177},
      {"b":25,"o":"33.56","t":"E","x":-23,"y":0.00076},
      {"b":25,"o":"33.56","t":"E","x":-22,"y":0.000507},
      {"b":25,"o":"33.56","t":"E","x":-21,"y":0.000362},
      {"b":25,"o":"33.56","t":"E","x":-20,"y":0.000262},
      {"b":25,"o":"33.56","t":"E","x":-19,"y":0.000201},
      {"b":25,"o":"33.56","t":"E","x":-18,"y":0.000156},
      {"b":25,"o":"33.56","t":"E","x":-17,"y":0.000131}
    ]
  },
  "encoding": {
    "x": {
      "field": "x",
      "type": "quantitative",
      "scale": {"domain": [-36, -15], "nice": false, "zero": false},
      "axis": {
        "values": [-35, -30, -25, -20, -15],
        "labelExpr": "'' + datum.value",
        "labelFontSize": 36,
        "labelColor": "#262626",
        "labelPadding": 30,
        "labelOffset": -9,
        "labelFlush": false,
        "labelOverlap": false,
        "labelBaseline": "top",
        "ticks": true,
        "tickSize": -7,
        "tickColor": "#333333",
        "tickWidth": 1.2,
        "domain": false,
        "grid": true,
        "gridColor": "#e2e2e2",
        "gridWidth": 1,
        "title": "Received Power [dBm]",
        "titleFontSize": 36,
        "titleFontWeight": "normal",
        "titleColor": "#262626",
        "titleX": 353,
        "titleY": 108,
        "titleAlign": "center",
        "titleBaseline": "middle"
      }
    }
  },
  "layer": [
    {
      "encoding": {
        "y": {
          "field": "y",
          "type": "quantitative",
          "scale": {"type": "log", "domain": [0.0001, 0.06055], "nice": false},
          "axis": {
            "orient": "left",
            "values": [0.0001, 0.0002, 0.0003, 0.0004, 0.0005, 0.0006, 0.0007, 0.0008, 0.0009, 0.001, 0.002, 0.003, 0.004, 0.005, 0.006, 0.007, 0.008, 0.009, 0.01, 0.02, 0.03, 0.04, 0.05, 0.06],
            "labelExpr": "abs(log(datum.value)/LN10 - round(log(datum.value)/LN10)) < 0.000001 ? '10' : ''",
            "labelFontSize": 38,
            "labelColor": "#262626",
            "labelPadding": 78,
            "labelOffset": -2,
            "labelAlign": "right",
            "labelBaseline": "middle",
            "labelOverlap": false,
            "labelFlush": false,
            "labelBound": false,
            "ticks": true,
            "tickSize": -7,
            "tickColor": "#333333",
            "tickWidth": 1.2,
            "domain": false,
            "grid": true,
            "gridColor": {"condition": {"test": "abs(log(datum.value)/LN10 - round(log(datum.value)/LN10)) < 0.000001", "value": "#dcdcdc"}, "value": "#c4c4c4"},
            "gridDash": {"condition": {"test": "abs(log(datum.value)/LN10 - round(log(datum.value)/LN10)) < 0.000001", "value": []}, "value": [2, 7]},
            "title": "BER",
            "titleFontSize": 36,
            "titleFontWeight": "normal",
            "titleColor": "#262626",
            "titleX": -164,
            "titleY": 327.5,
            "titleAngle": 270,
            "titleAlign": "center",
            "titleBaseline": "middle"
          }
        }
      },
      "layer": [
        {
          "data": {"name": "box"},
          "mark": {"type": "rect", "fill": "white", "stroke": "#404040", "strokeWidth": 1.5},
          "encoding": {"x2": {"field": "x2"}, "y2": {"field": "y2"}}
        },
        {
          "data": {"name": "ber"},
          "mark": {"type": "line", "strokeWidth": 4.5, "clip": true},
          "encoding": {
            "color": {
              "field": "o",
              "type": "nominal",
              "scale": {
                "domain": ["18.03", "20.11", "23.34", "25.67", "27.6", "29.8", "31.74", "33.56"],
                "range": ["#000000", "#0072BD", "#D95319", "#EDB120", "#7E2F8E", "#77AC30", "#4DBEEE", "#A2142F"]
              },
              "legend": {
                "orient": "none",
                "direction": "vertical",
                "legendX": 0,
                "legendY": 293.5,
                "title": null,
                "padding": 0,
                "symbolType": "M-4,0H4",
                "symbolSize": 400,
                "symbolStrokeWidth": 5,
                "symbolOffset": 35.5,
                "labelOffset": 33.5,
                "labelFontSize": 24,
                "labelColor": "black",
                "labelLimit": 400,
                "labelBaseline": "alphabetic",
                "rowPadding": 13,
                "labelExpr": "'OSNR = ' + datum.label + ' dB'"
              }
            },
            "strokeDash": {
              "field": "t",
              "type": "nominal",
              "scale": {"domain": ["E", "M"], "range": [[1, 0], [15, 11]]},
              "legend": {
                "orient": "none",
                "direction": "vertical",
                "legendX": 180,
                "legendY": 825,
                "title": null,
                "padding": 0,
                "symbolType": "M-4,0H4",
                "symbolSize": 552,
                "symbolStrokeWidth": 3.5,
                "symbolStrokeColor": "black",
                "symbolOffset": 33,
                "labelOffset": 68,
                "labelFontSize": 42,
                "labelFontWeight": "bold",
                "labelColor": "black",
                "labelLimit": 600,
                "rowPadding": 23,
                "labelExpr": "datum.label == 'E' ? 'Experiments' : 'Analytical Model'",
                "encode": {"symbols": {"update": {"stroke": {"value": "black"}}}}
              }
            },
            "detail": {"field": "b"}
          }
        },
        {
          "data": {"name": "ber"},
          "transform": [{"filter": "datum.b == 25 && datum.o == '33.56' && datum.t == 'E'"}],
          "mark": {
            "type": "point",
            "shape": "M0,-1L0,1M-1,0L1,0M-0.707,-0.707L0.707,0.707M-0.707,0.707L0.707,-0.707",
            "size": 1156,
            "filled": false,
            "color": "#A2142F",
            "strokeWidth": 7,
            "opacity": 1
          }
        },
        {
          "data": {"name": "ell25"},
          "mark": {
            "type": "point",
            "shape": "M0,-1C0.247,-1 0.447,-0.552 0.447,0C0.447,0.552 0.247,1 0,1C-0.247,1 -0.447,0.552 -0.447,0C-0.447,-0.552 -0.247,-1 0,-1Z",
            "size": 5776,
            "filled": false,
            "color": "black",
            "strokeWidth": 3,
            "opacity": 1
          }
        },
        {
          "data": {"name": "ell50"},
          "mark": {
            "type": "point",
            "shape": "M0,-1C0.214,-1 0.387,-0.552 0.387,0C0.387,0.552 0.214,1 0,1C-0.214,1 -0.387,0.552 -0.387,0C-0.387,-0.552 -0.214,-1 0,-1Z",
            "size": 11449,
            "filled": false,
            "color": "black",
            "strokeWidth": 3,
            "opacity": 1
          }
        },
        {
          "data": {"name": "arrows"},
          "mark": {"type": "rule", "strokeWidth": 3, "color": "black"},
          "encoding": {"x2": {"field": "x2"}, "y2": {"field": "y2"}}
        },
        {
          "data": {"name": "head25"},
          "mark": {"type": "point", "shape": "M-1,-0.6L0,0L-1,0.6", "size": 1024, "angle": 131, "filled": false, "color": "black", "strokeWidth": 3, "opacity": 1}
        }
      ]
    },
    {
      "data": {"name": "labels"},
      "mark": {"type": "text", "fontSize": 42, "fontWeight": "bold", "align": "center", "baseline": "alphabetic", "color": "black"},
      "encoding": {
        "text": {"field": "label"},
        "x": {"field": "x", "type": "quantitative", "axis": null},
        "y": {
          "field": "y",
          "type": "quantitative",
          "axis": {
            "orient": "left",
            "values": [0.0001, 0.001, 0.01],
            "labelExpr": "'-' + round(-log(datum.value)/LN10)",
            "labelFontSize": 30,
            "labelColor": "#262626",
            "labelPadding": 27,
            "labelOffset": -24,
            "labelAlign": "right",
            "labelBaseline": "middle",
            "labelOverlap": false,
            "labelFlush": false,
            "labelBound": false,
            "ticks": false,
            "domain": false,
            "grid": false,
            "title": null
          }
        }
      }
    },
    {
      "data": {"name": "head50"},
      "mark": {"type": "point", "shape": "M-1,-0.6L0,0L-1,0.6", "size": 1024, "angle": 13.5, "filled": false, "color": "black", "strokeWidth": 3, "opacity": 1},
      "encoding": {
        "x": {
          "field": "x",
          "type": "quantitative",
          "axis": {
            "orient": "top",
            "values": [-35, -30, -25, -20],
            "labels": false,
            "ticks": true,
            "tickSize": -7,
            "tickColor": "#333333",
            "tickWidth": 1.2,
            "domain": false,
            "grid": false,
            "title": null
          }
        },
        "y": {
          "field": "y",
          "type": "quantitative",
          "axis": {
            "orient": "right",
            "values": [0.0001, 0.0002, 0.0003, 0.0004, 0.0005, 0.0006, 0.0007, 0.0008, 0.0009, 0.001, 0.002, 0.003, 0.004, 0.005, 0.006, 0.007, 0.008, 0.009, 0.01, 0.02, 0.03, 0.04, 0.05, 0.06],
            "labels": false,
            "ticks": true,
            "tickSize": -7,
            "tickColor": "#333333",
            "tickWidth": 1.2,
            "domain": false,
            "grid": false,
            "title": null
          }
        }
      }
    }
  ],
  "resolve": {"axis": {"y": "independent", "x": "independent"}}
}
